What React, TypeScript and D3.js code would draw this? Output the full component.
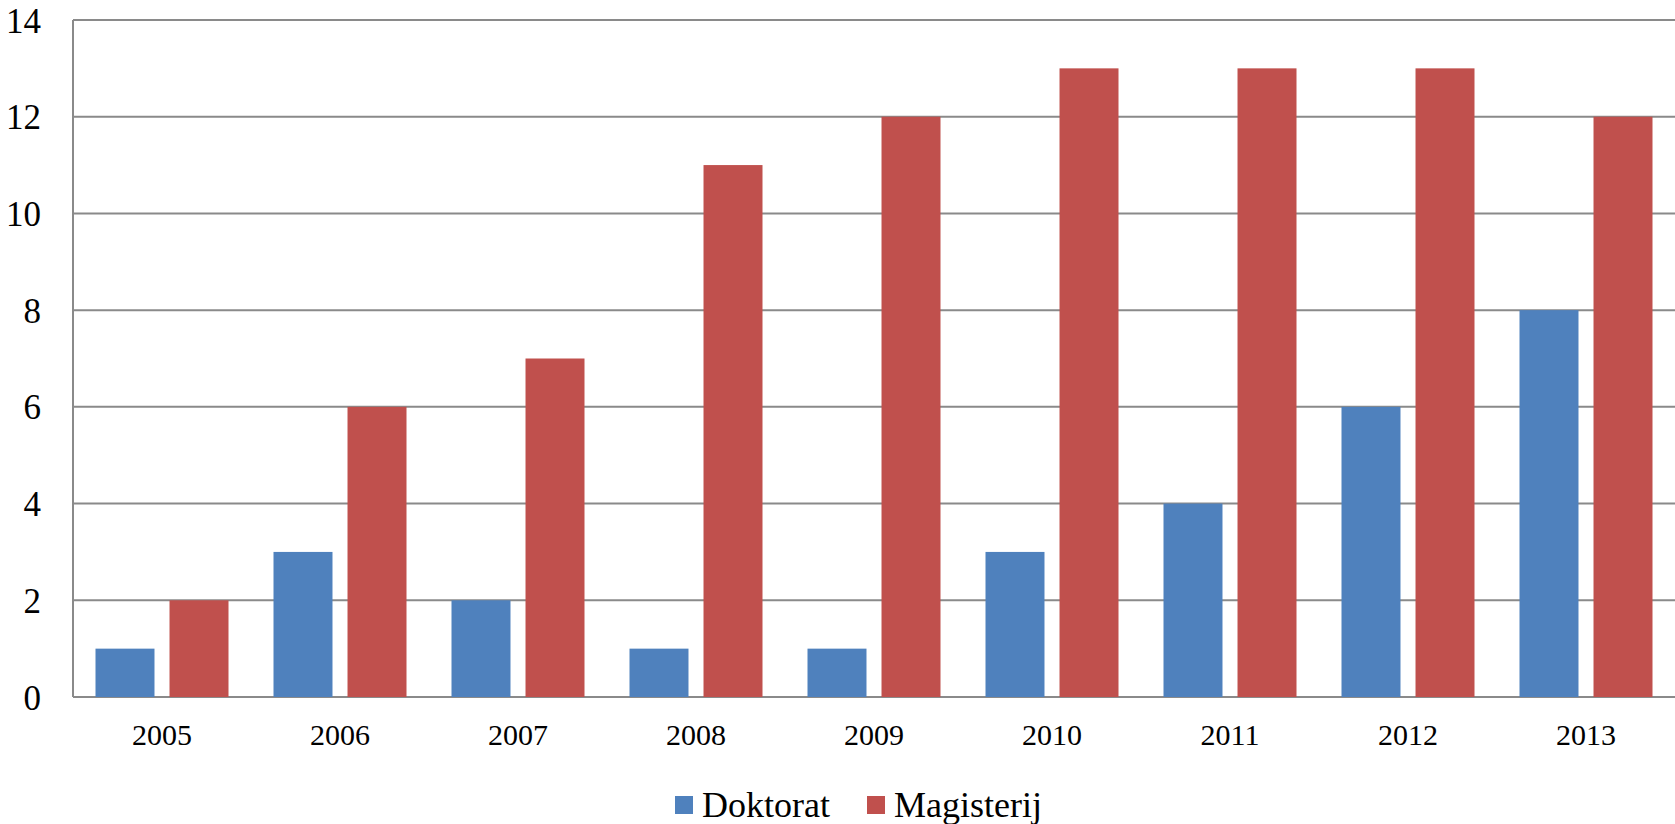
import React, { useEffect, useRef } from "react"
import * as d3 from "d3"

const years = ["2005", "2006", "2007", "2008", "2009", "2010", "2011", "2012", "2013"]
const doktorat = [1, 3, 2, 1, 1, 3, 4, 6, 8]
const magisterij = [2, 6, 7, 11, 12, 13, 13, 13, 12]
const seriesNames = ["Doktorat", "Magisterij"]
const colors = ["#4F81BD", "#C0504D"]
const yTicks = [0, 2, 4, 6, 8, 10, 12, 14]

const W = 1675
const H = 824
const FONT = "'Liberation Serif', 'DejaVu Serif', serif"

export default function App() {
  const ref = useRef<SVGSVGElement>(null)

  useEffect(() => {
    const svg = d3.select(ref.current)
    svg.selectAll("*").remove()

    const left = 73
    const right = 1675
    const top = 20
    const bottom = 697

    const x = d3.scaleBand().domain(years).range([left, right]).padding(0)
    const xs = d3
      .scaleBand()
      .domain(["0", "1"])
      .range([0, x.bandwidth()])
      .paddingInner(0.203)
      .paddingOuter(0.304)
    const y = d3.scaleLinear().domain([0, 14]).range([bottom, top])

    // grid
    svg
      .append("g")
      .selectAll("line")
      .data(yTicks)
      .join("line")
      .attr("x1", left)
      .attr("x2", right)
      .attr("y1", (d) => y(d))
      .attr("y2", (d) => y(d))
      .attr("stroke", "#8a8a8a")
      .attr("stroke-width", 2)

    svg
      .append("line")
      .attr("x1", left)
      .attr("x2", left)
      .attr("y1", top)
      .attr("y2", bottom)
      .attr("stroke", "#8a8a8a")
      .attr("stroke-width", 2)

    // bars
    const all = [doktorat, magisterij]
    all.forEach((vals, si) => {
      svg
        .append("g")
        .selectAll("rect")
        .data(vals)
        .join("rect")
        .attr("x", (d, i) => (x(years[i]) as number) + (xs(String(si)) as number))
        .attr("width", xs.bandwidth())
        .attr("y", (d) => y(d))
        .attr("height", (d) => bottom - y(d))
        .attr("fill", colors[si])
    })

    // y labels
    svg
      .append("g")
      .selectAll("text")
      .data(yTicks)
      .join("text")
      .attr("x", 41)
      .attr("y", (d) => y(d) + 1)
      .attr("text-anchor", "end")
      .attr("dominant-baseline", "central")
      .attr("font-family", FONT)
      .attr("font-size", 35)
      .attr("fill", "#000")
      .text((d) => d)

    // x labels
    svg
      .append("g")
      .selectAll("text")
      .data(years)
      .join("text")
      .attr("x", (d) => (x(d) as number) + x.bandwidth() / 2)
      .attr("y", 745)
      .attr("text-anchor", "middle")
      .attr("font-family", FONT)
      .attr("font-size", 30)
      .attr("fill", "#000")
      .text((d) => d)

    // legend
    const legendX = [675, 867]
    seriesNames.forEach((name, i) => {
      svg
        .append("rect")
        .attr("x", legendX[i])
        .attr("y", 796)
        .attr("width", 18)
        .attr("height", 18)
        .attr("fill", colors[i])
      svg
        .append("text")
        .attr("x", legendX[i] + 27)
        .attr("y", 817)
        .attr("font-family", FONT)
        .attr("font-size", 36)
        .attr("fill", "#000")
        .text(name)
    })
  }, [])

  return (
    <svg
      ref={ref}
      width={W}
      height={H}
      style={{ position: "absolute", left: 0, top: 0, background: "#fff" }}
    />
  )
}
